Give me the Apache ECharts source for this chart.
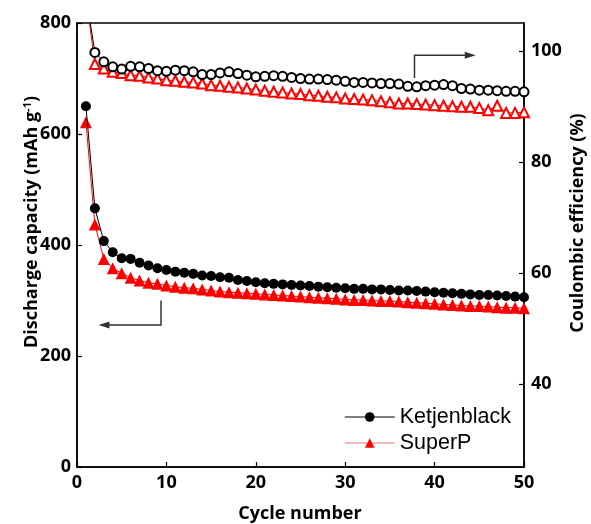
<!DOCTYPE html>
<html><head><meta charset="utf-8">
<script src="https://cdn.jsdelivr.net/npm/echarts@6/dist/echarts.min.js"></script>
<style>html,body{margin:0;padding:0;background:#fff}#c{width:591px;height:524px}</style>
</head><body><div id="c"></div>
<script>
const cycles = Array.from({length:50},(_,i)=>i+1);
const kbCapacity = [650,466,407,387,376,375,368,363,358,355,352,350,348,345,344,342,341,337,335,333,
  331,330,329,328,327,326,325,324,323,322,321,321,320,320,319,318,318,317,316,315,
  314,313,312,311,310,310,309,308,307,306];
const spCapacity = [621,437,375,358,349,341,336,332,330,327,325,323,322,320,318,316,315,314,313,312,
  311,310,309,308,307,306,305,304,303,302,301,301,300,299,299,298,297,296,295,294,
  293,292,291,290,290,289,288,287,287,286];
const kbCE = [110,99.7,98.0,97.1,96.7,97.2,97.1,96.8,96.4,96.3,96.5,96.4,96.2,95.7,95.7,96.0,96.2,95.9,95.6,95.3,
  95.4,95.5,95.4,95.2,95.0,94.9,94.9,94.8,94.7,94.5,94.3,94.3,94.2,94.1,94.1,94.0,93.6,93.5,93.7,93.8,
  93.9,93.7,93.2,93.1,92.9,92.9,92.8,92.7,92.7,92.6];
const spCE = [110,97.6,96.8,96.2,96.0,95.6,95.5,95.2,95.0,94.7,94.6,94.4,94.3,94.1,93.8,93.7,93.5,93.4,93.2,93.0,
  92.8,92.6,92.5,92.3,92.2,92.0,91.9,91.7,91.6,91.4,91.3,91.2,91.1,90.9,90.7,90.5,90.5,90.4,90.3,90.2,
  90.1,90.0,89.9,89.9,89.7,89.3,90.1,88.8,88.8,88.9];
const ceTicks = [40,60,80,100];
const seriesNames = ['Ketjenblack','SuperP'];
// annotation arrows in data coordinates
const arrowLeft = [[9.4,300],[9.4,256],[2.4,256]];   // left axis
const arrowRight = [[37.75,95.1],[37.75,99.2],[44.6,99.2]]; // right axis

const zip = (a)=>cycles.map((c,i)=>[c,a[i]]);
const FONT = 'Open Sans';
const chart = echarts.init(document.getElementById('c'), null, {renderer:'canvas'});
const lbl = {fontFamily:FONT, fontWeight:'bold', fontSize:18, color:'#000'};
chart.setOption({
  animation:false,
  grid:{left:77,right:67,top:23,bottom:57,show:true,borderColor:'#000',borderWidth:1.5,backgroundColor:'transparent'},
  legend:{data:[{name:seriesNames[0],itemStyle:{color:'#000'},lineStyle:{color:'#000',width:1}},
                {name:seriesNames[1],itemStyle:{color:'#ff0000'},lineStyle:{color:'#f5a3a3',width:1.5}}],
    orient:'vertical',left:339,top:401,itemWidth:50,itemHeight:12,itemGap:4,
    textStyle:{fontFamily:'Liberation Sans',fontSize:21.5,color:'#000'}},
  xAxis:{type:'value',min:0,max:50,interval:10,
    axisLine:{lineStyle:{color:'#000',width:1.5}},
    axisTick:{inside:true,length:5,lineStyle:{color:'#000',width:1.2}},
    axisLabel:Object.assign({margin:7},lbl),splitLine:{show:false}},
  yAxis:[
    {type:'value',min:0,max:800,interval:200,position:'left',
     axisLine:{show:true,lineStyle:{color:'#000',width:1.5}},
     axisTick:{show:true,inside:true,length:5,lineStyle:{color:'#000',width:1.2}},
     axisLabel:Object.assign({margin:6},lbl),splitLine:{show:false}},
    {type:'value',min:25,max:105,position:'right',
     axisLine:{show:true,lineStyle:{color:'#000',width:1.5}},
     axisTick:{show:true,inside:true,length:5,customValues:ceTicks,lineStyle:{color:'#000',width:1.2}},
     axisLabel:Object.assign({margin:7,customValues:ceTicks},lbl),splitLine:{show:false}}
  ],
  series:[
    {name:seriesNames[0],type:'line',yAxisIndex:0,data:zip(kbCapacity),symbol:'circle',symbolSize:10,showAllSymbol:true,
     itemStyle:{color:'#000'},lineStyle:{color:'#000',width:1},z:4},
    {name:seriesNames[1],type:'line',yAxisIndex:0,data:zip(spCapacity),symbol:'triangle',symbolSize:12,showAllSymbol:true,
     itemStyle:{color:'#ff0000'},lineStyle:{color:'#ff0000',width:1},z:3},
    {name:'Ketjenblack CE',type:'line',yAxisIndex:1,data:zip(kbCE),symbol:'emptyCircle',symbolSize:9,showAllSymbol:true,
     itemStyle:{color:'#000',borderWidth:1.5},lineStyle:{color:'#000',width:1},z:4},
    {name:'SuperP CE',type:'line',yAxisIndex:1,data:zip(spCE),symbol:'emptyTriangle',symbolSize:10,showAllSymbol:true,
     itemStyle:{color:'#ff0000',borderWidth:1.5},lineStyle:{color:'#ff0000',width:1},z:3}
  ]
});
function px(pt, yi){ return chart.convertToPixel({xAxisIndex:0,yAxisIndex:yi}, pt); }
const aL = arrowLeft.map(p=>px(p,0)), aR = arrowRight.map(p=>px(p,1));
function head(tip, dir){ // dir: 1 right, -1 left
  const L=11, H=3.5;
  return [[tip[0],tip[1]],[tip[0]-dir*L,tip[1]-H],[tip[0]-dir*L,tip[1]+H]];
}
const titleStyle = {fontFamily:FONT,fontWeight:'bold',fontSize:18,fill:'#000'};
chart.setOption({graphic:[
  {type:'polyline',shape:{points:[aL[0],aL[1],[aL[2][0]+8,aL[2][1]]]},style:{stroke:'#333',lineWidth:1.5,fill:null}},
  {type:'polygon',shape:{points:head(aL[2],-1)},style:{fill:'#333'}},
  {type:'polyline',shape:{points:[aR[0],aR[1],[aR[2][0]-8,aR[2][1]]]},style:{stroke:'#333',lineWidth:1.5,fill:null}},
  {type:'polygon',shape:{points:head(aR[2],1)},style:{fill:'#333'}},
  {type:'text',x:32,y:222,rotation:Math.PI/2,style:{text:'Discharge capacity (mAh g{sup|-1})',
    align:'center',verticalAlign:'middle',fontFamily:FONT,fontWeight:'bold',fontSize:18,fill:'#000',
    rich:{sup:{fontFamily:FONT,fontWeight:'bold',fontSize:11,fill:'#000',verticalAlign:'top',padding:[0,0,8,0]}}}},
  {type:'text',x:578,y:223,rotation:Math.PI/2,style:Object.assign({text:'Coulombic efficiency (%)',align:'center',verticalAlign:'middle'},titleStyle)},
  {type:'text',x:300,y:514,style:Object.assign({text:'Cycle number',align:'center',verticalAlign:'middle'},titleStyle)}
]});
</script></body></html>
